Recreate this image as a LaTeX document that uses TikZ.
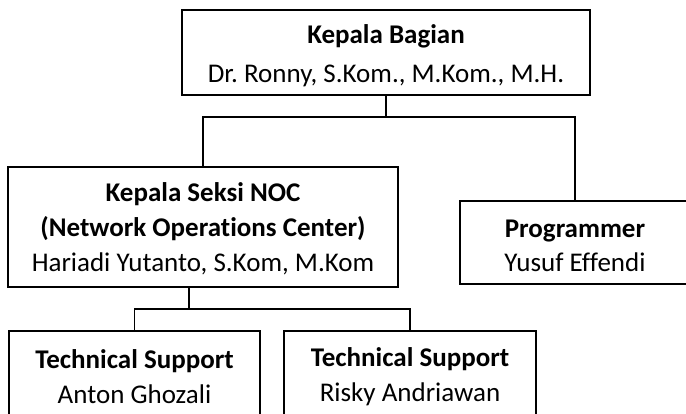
\documentclass[tikz,border=0pt]{standalone}
\usepackage{fontspec}
\setmainfont[Ligatures=NoCommon]{Carlito}
\frenchspacing
\begin{document}
\begin{tikzpicture}[x=1pt,y=-1pt,
  unit/.style={draw=black,line width=1.6pt,rectangle,inner sep=0pt},
  caption/.style={inner sep=0pt,align=center,font=\fontsize{27}{35}\selectfont},
  link/.style={draw=black,line width=1.6pt}]
\useasboundingbox (0,0) rectangle (686,413);
\clip (0,0) rectangle (686,413);

% organisation units (frames)
\node[unit,minimum width=408pt,minimum height=85pt] (head) at (386,52.5) {};
\node[unit,minimum width=390pt,minimum height=120pt] (noc) at (203,227) {};
\node[unit,minimum width=230pt,minimum height=83pt] (prog) at (575,242.5) {};
\node[unit,minimum width=251pt,minimum height=90pt] (ts1) at (134.5,376) {};
\node[unit,minimum width=252pt,minimum height=90pt] (ts2) at (410,376) {};

% titles and names inside the frames
\node[caption,font=\fontsize{27}{39}\selectfont] (headtxt) at ([yshift=-3pt]head.center)
  {\textbf{Kepala Bagian}\\Dr. Ronny, S.Kom., M.Kom., M.H.};
\node[caption] (noctxt) at ([yshift=-1.5pt]noc.center)
  {\textbf{Kepala Seksi NOC}\\\textbf{(Network Operations Center)}\\Hariadi Yutanto, S.Kom, M.Kom};
\node[caption,font=\fontsize{27}{34}\selectfont] (progtxt) at ([yshift=-3.5pt]prog.center)
  {\textbf{Programmer}\\Yusuf Effendi};
\node[caption] (ts1txt) at ([yshift=-1pt]ts1.center)
  {\textbf{Technical Support}\\Anton Ghozali};
\node[caption] (ts2txt) at ([yshift=-1pt]ts2.center)
  {\textbf{Technical Support}\\Risky Andriawan};

% branch points
\coordinate (b1) at (386,117);
\coordinate (b2) at (189,309);

% connectors
\draw[link] (head.south) -- (b1);
\draw[link] (noc.north) |- (b1) -| (prog.north);
\draw[link] (b2 |- noc.south) -- (b2);
\draw[link] (ts1.north) |- (b2) -| (ts2.north);
\end{tikzpicture}
\end{document}
